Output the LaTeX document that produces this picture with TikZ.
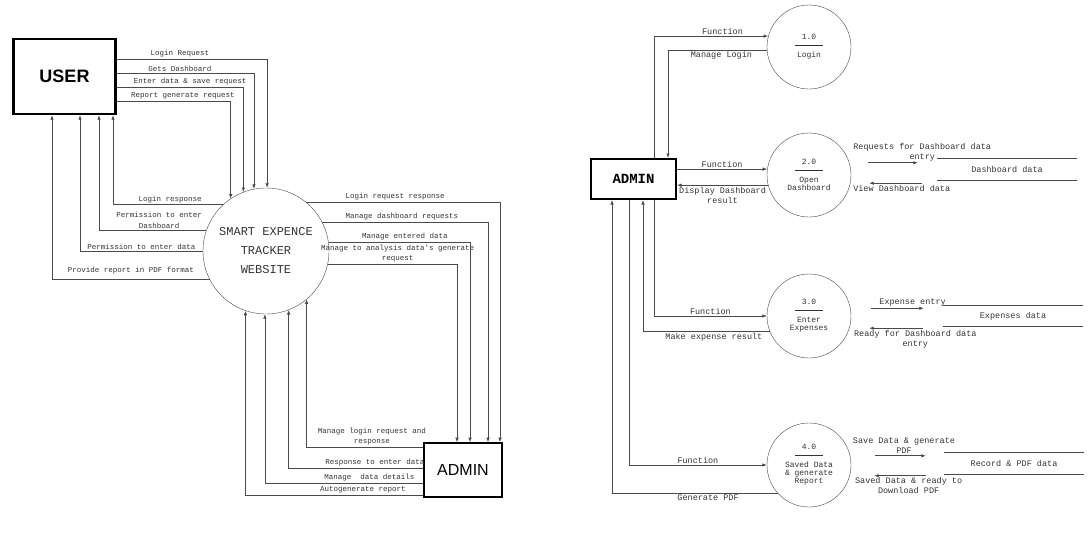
\documentclass[tikz,border=0pt]{standalone}
\usepackage{fontspec}
\setmainfont{Liberation Sans}
\setsansfont{Liberation Sans}
\setmonofont{Liberation Mono}
\usepackage{tikz}
\usetikzlibrary{arrows.meta,positioning}
\definecolor{tinta}{HTML}{333333}
\definecolor{linha}{HTML}{4A4A4A}

\begin{document}
\begin{tikzpicture}[
  x=1pt,y=-1pt,
  ent/.style={draw=black,inner sep=0pt,align=center},
  proc/.style={draw=linha,circle,thin,minimum size=84pt,inner sep=0pt,align=center,
    font=\ttfamily\fontsize{8}{10}\selectfont,text=tinta},
  lbl/.style={font=\ttfamily\fontsize{7.5}{10.5}\selectfont,text=tinta,inner sep=1.5pt,align=center},
  rlbl/.style={lbl,font=\ttfamily\fontsize{8.5}{10}\selectfont},
  store/.style={minimum width=140pt,minimum height=21pt,inner sep=0pt,
    font=\ttfamily\fontsize{8.5}{10}\selectfont,text=tinta},
  storeline/.style={draw=linha,line width=0.7pt},
  flow/.style={draw=linha,line width=0.7pt,-{Latex[length=4.5pt,width=3.5pt]}}
]
  \useasboundingbox (0,0) rectangle (1092,541);

  % context diagram
  \node[ent,line width=2.4pt,minimum width=102pt,minimum height=75pt,
        font=\sffamily\bfseries\fontsize{18}{20}\selectfont] (user) at (64.5,76.5) {USER};
  \node[proc,minimum size=126pt,font=\ttfamily\fontsize{12}{19}\selectfont] (web) at (266,251)
    {SMART EXPENCE\\TRACKER\\WEBSITE};
  \node[ent,line width=1.6pt,minimum width=78pt,minimum height=54pt,
        font=\sffamily\fontsize{16}{18}\selectfont] (admin) at (463,470) {ADMIN};

  \draw[flow] ([yshift=17.5pt]user.east) -| node[lbl,above,pos=.21]{Login Request} (web.89);
  \draw[flow] ([yshift=3.5pt]user.east) -| node[lbl,above,pos=.23]{Gets Dashboard} (web.101);
  \draw[flow] ([yshift=-10.5pt]user.east) -| node[lbl,above,pos=.29]{Enter data \& save request} (web.111.5);
  \draw[flow] ([yshift=-24.5pt]user.east) -| node[lbl,above,pos=.29]{Report generate request} (web.124);

  \draw[flow] (web.133) -| node[lbl,above,pos=.24]{Login response} ([xshift=48.5pt]user.south);
  \draw[flow] (web.161.5) -| node[lbl,above,pos=.22]{Permission to enter\\Dashboard} ([xshift=34.5pt]user.south);
  \draw[flow] (web.180) -| node[lbl,above,pos=.25]{Permission to enter data} ([xshift=15.5pt]user.south);
  \draw[flow] (web.207.4) -| node[lbl,above,pos=.25,yshift=4pt]{Provide report in PDF format} ([xshift=-12.5pt]user.south);

  \draw[flow] (web.51) -| node[lbl,above,pos=.23]{Login request response} ([xshift=37pt]admin.north);
  \draw[flow] (web.27.4) -| node[lbl,above,pos=.24]{Manage dashboard requests} ([xshift=25pt]admin.north);
  \draw[flow] (web.8.2) -| node[lbl,above,pos=.27]{Manage entered data} ([xshift=7pt]admin.north);
  \draw[flow] (web.348) -| node[lbl,above,pos=.27]{Manage to analysis data's generate\\request} ([xshift=-6pt]admin.north);

  \draw[flow] ([yshift=23pt]admin.west) -| node[lbl,above,pos=.22]{Manage login request and\\response} (web.310.6);
  \draw[flow] ([yshift=2pt]admin.west) -| node[lbl,above,pos=.18]{Response to enter data} (web.291.4);
  \draw[flow] ([yshift=-13pt]admin.west) -| node[lbl,above,pos=.17]{Manage\ \ data details} (web.269.1);
  \draw[flow] ([yshift=-25pt]admin.west) -| node[lbl,above,pos=.17]{Autogenerate report} (web.251.5);

  % level 1 diagram
  \node[ent,line width=2pt,minimum width=85pt,minimum height=40pt,
        font=\ttfamily\bfseries\fontsize{14}{16}\selectfont] (admin2) at (633.5,179) {ADMIN};
  \node[proc] (p1) at (809,47) {1.0\\[-2pt]\rule[2pt]{28pt}{0.5pt}\\Login};
  \node[proc] (p2) at (809,175) {2.0\\[-2pt]\rule[2pt]{28pt}{0.5pt}\\Open\\[-2pt]Dashboard};
  \node[proc] (p3) at (809,316) {3.0\\[-2pt]\rule[2pt]{28pt}{0.5pt}\\Enter\\[-2pt]Expenses};
  \node[proc] (p4) at (809,465) {4.0\\[-2pt]\rule[2pt]{28pt}{0.5pt}\\Saved Data\\[-2pt]\& generate\\[-2pt]Report};

  \node[store] (ds2) at (1007,169.5) {Dashboard data};
  \node[store] (ds3) at (1013,316) {Expenses data};
  \node[store] (ds4) at (1014,463.5) {Record \& PDF data};
  \draw[storeline] (ds2.north west) -- (ds2.north east) (ds2.south west) -- (ds2.south east);
  \draw[storeline] (ds3.north west) -- (ds3.north east) (ds3.south west) -- (ds3.south east);
  \draw[storeline] (ds4.north west) -- (ds4.north east) (ds4.south west) -- (ds4.south east);

  \draw[flow] ([xshift=20.5pt]admin2.north) |- node[rlbl,above,pos=.8]{Function} (p1.165);
  \draw[flow] (p1.184) -| node[rlbl,below,pos=.23]{Manage Login} ([xshift=34.5pt]admin2.north);

  \draw[flow] (admin2.east |- p2.172) -- node[rlbl,above]{Function} (p2.172);
  \draw[flow] (p2.194) -- node[rlbl,below]{Display Dashboard\\result} (admin2.east |- p2.194);

  \draw[flow] ([xshift=20.5pt]admin2.south) |- node[rlbl,above,pos=.75]{Function} (p3);
  \draw[flow] (p3.201) -| node[rlbl,below,pos=.22]{Make expense result} ([xshift=9.5pt]admin2.south);

  \draw[flow] ([xshift=-4.5pt]admin2.south) |- node[rlbl,above,pos=.75]{Function} (p4);
  \draw[flow] (p4.222) -| node[rlbl,below,pos=.21]{Generate PDF} ([xshift=-21.5pt]admin2.south);

  \draw[flow,shorten <=17pt,shorten >=19pt] ([yshift=-4pt]p2.east |- ds2.north) --
    node[rlbl,above,pos=.83]{Requests for Dashboard data\\entry} ([yshift=-4pt]ds2.north west);
  \draw[flow,shorten <=15pt,shorten >=18pt] ([yshift=-3pt]ds2.south west) --
    node[rlbl,below,pos=.41]{View Dashboard data} ([yshift=-3pt]p2.east |- ds2.south);

  \draw[flow,shorten <=20pt,shorten >=19pt] ([yshift=-3pt]p3.east |- ds3.north) --
    node[rlbl,above,pos=.67]{Expense entry} ([yshift=-3pt]ds3.north west);
  \draw[flow,shorten <=20pt,shorten >=18pt] ([yshift=-1.5pt]ds3.south west) --
    node[rlbl,below,pos=.3]{Ready for Dashboard data\\entry} ([yshift=-1.5pt]p3.east |- ds3.south);

  \draw[flow,shorten <=24pt,shorten >=18pt] ([yshift=-3pt]p4.east |- ds4.north) --
    node[rlbl,above,pos=.57]{Save Data \& generate\\PDF} ([yshift=-3pt]ds4.north west);
  \draw[flow,shorten <=18pt,shorten >=23pt] ([yshift=-1.5pt]ds4.south west) --
    node[rlbl,below,pos=.38]{Saved Data \& ready to\\Download PDF} ([yshift=-1.5pt]p4.east |- ds4.south);
\end{tikzpicture}
\end{document}
